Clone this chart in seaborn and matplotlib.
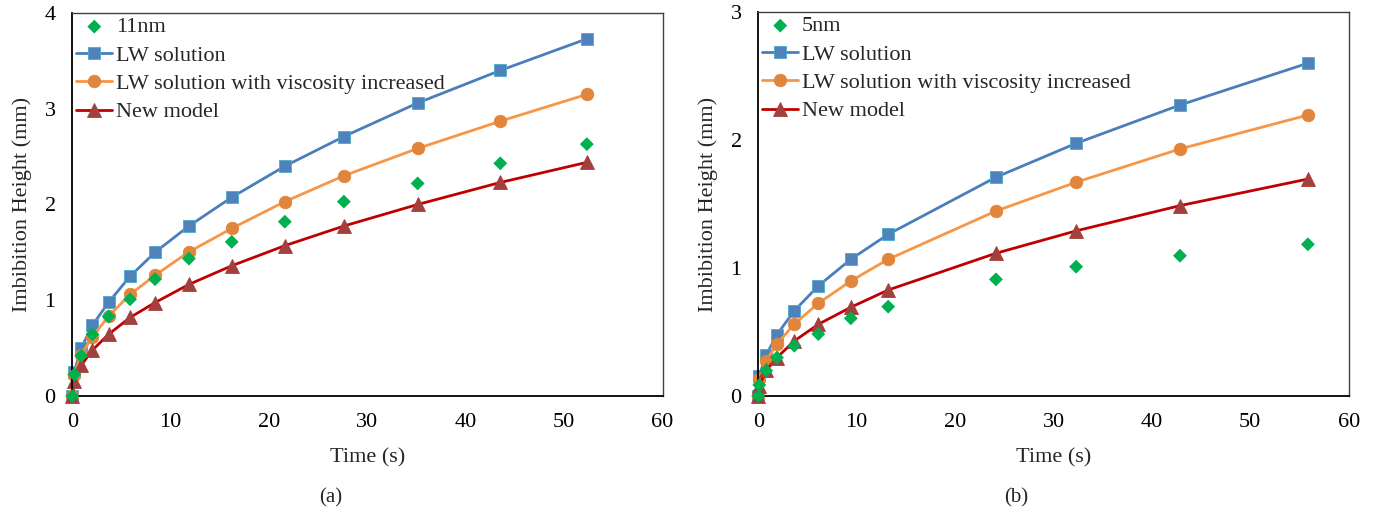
import matplotlib
matplotlib.use("Agg")
import matplotlib.pyplot as plt
import seaborn as sns

# ---------------------------------------------------------------------------
# data (a) 11nm
time_a = [0, 0.2, 0.9, 2.05, 3.7, 5.87, 8.4, 11.85, 16.2, 21.6, 27.6, 35.1,
          43.5, 52.3]
exp_a = [0, 0.225, 0.42, 0.645, 0.83, 1.01, 1.22, 1.435, 1.61, 1.82, 2.03,
         2.22, 2.43, 2.63]
lw_a = [0, 0.25, 0.50, 0.74, 0.98, 1.25, 1.50, 1.775, 2.075, 2.40, 2.71,
        3.06, 3.40, 3.73]
lw_visc_a = [0, 0.22, 0.43, 0.62, 0.835, 1.06, 1.26, 1.505, 1.75, 2.03,
             2.30, 2.585, 2.87, 3.15]
new_a = [0, 0.155, 0.32, 0.48, 0.645, 0.82, 0.975, 1.165, 1.36, 1.57,
         1.775, 2.00, 2.23, 2.44]

# data (b) 5nm
time_b = [0, 0.1, 0.8, 1.9, 3.66, 6.1, 9.4, 13.2, 24.15, 32.3, 42.85, 55.85]
exp_b = [0, 0.086, 0.198, 0.30, 0.393, 0.484, 0.607, 0.698, 0.911, 1.01,
         1.096, 1.185]
lw_b = [0, 0.16, 0.32, 0.48, 0.666, 0.86, 1.068, 1.263, 1.709, 1.974,
        2.273, 2.60]
lw_visc_b = [0, 0.13, 0.276, 0.406, 0.5625, 0.724, 0.898, 1.068, 1.445,
             1.67, 1.93, 2.195]
new_b = [0, 0.08, 0.20, 0.30, 0.43, 0.56, 0.693, 0.828, 1.115, 1.29, 1.487,
         1.695]

sns.set_style("white")
plt.rcParams['font.family'] = ['Liberation Serif', 'DejaVu Serif']

FS = 16


def panel(ax, t, exp, lw, lw_visc, new, exp_label, ymax, panel_label):
    sns.scatterplot(x=t, y=exp, ax=ax, marker='D', s=50, color='#00B050',
                    edgecolor='none', label=exp_label, zorder=5)
    sns.lineplot(x=t, y=lw, ax=ax, color='#4A7EBB', linewidth=2,
                 marker='s', markersize=9, markerfacecolor='#4F81BD',
                 markeredgecolor='#4BACC6', markeredgewidth=0.6,
                 label='LW solution', sort=False)
    sns.lineplot(x=t, y=lw_visc, ax=ax, color='#F79646', linewidth=2,
                 marker='o', markersize=9, markerfacecolor='#E0853B',
                 markeredgecolor='#E0853B', markeredgewidth=0.6,
                 label='LW solution with viscosity increased', sort=False)
    sns.lineplot(x=t, y=new, ax=ax, color='#C00000', linewidth=2,
                 marker='^', markersize=9.5, markerfacecolor='#A3403D',
                 markeredgecolor='#A3403D', markeredgewidth=0.6,
                 label='New model', sort=False)

    ax.set_xlim(0, 60)
    ax.set_ylim(0, ymax)
    ax.set_xticks(range(0, 61, 10))
    ax.set_yticks(range(0, ymax + 1))
    ax.tick_params(direction='in', length=5, width=1, labelsize=FS,
                   colors='black')
    ax.tick_params(axis='x', pad=12)
    ax.tick_params(axis='y', pad=12)
    for side in ['left', 'bottom']:
        ax.spines[side].set_color('black')
        ax.spines[side].set_linewidth(1.3)
    for side in ['top', 'right']:
        ax.spines[side].set_color('#404040')
        ax.spines[side].set_linewidth(1.0)

    ax.set_xlabel('Time (s)', fontsize=FS, labelpad=12)
    ax.set_ylabel('Imbibition Height (mm)', fontsize=FS, labelpad=9)
    ax.text(0.437, -0.265, panel_label, transform=ax.transAxes, fontsize=15,
            ha='center', va='center')

    leg = ax.legend(loc='upper left', frameon=False, fontsize=FS,
                    handlelength=1.6, handletextpad=0.18, labelspacing=0.35,
                    borderaxespad=0.0, bbox_to_anchor=(-0.008, 1.013))
    for h in leg.legend_handles:
        h.set_clip_on(False)


fig = plt.figure(figsize=(13.83, 5.08), dpi=100)
ax1 = fig.add_axes([0.0523, 0.2205, 0.4268, 0.7539])
ax2 = fig.add_axes([0.5483, 0.2205, 0.4269, 0.7559])

panel(ax1, time_a, exp_a, lw_a, lw_visc_a, new_a, '11nm', 4, '(a)')
panel(ax2, time_b, exp_b, lw_b, lw_visc_b, new_b, '5nm', 3, '(b)')

for ax in (ax1, ax2):
    for line in ax.lines:
        line.set_clip_on(False)
    for coll in ax.collections:
        coll.set_clip_on(False)

fig.savefig('out.png', dpi=100)
